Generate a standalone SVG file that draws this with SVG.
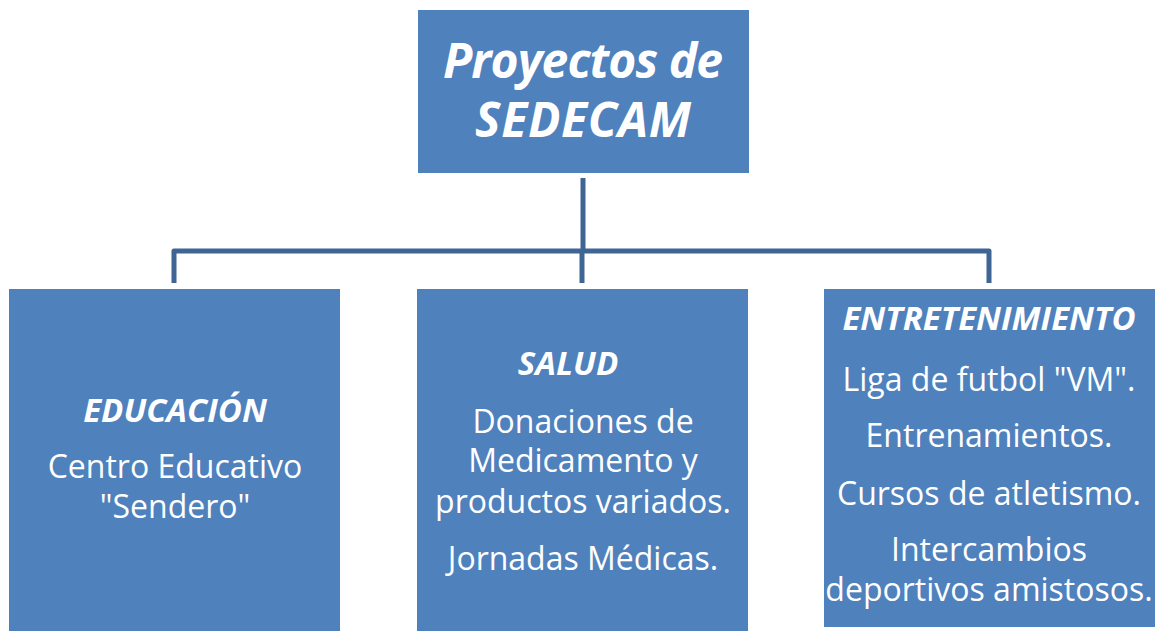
<svg xmlns="http://www.w3.org/2000/svg" width="1155" height="631" viewBox="0 0 1155 631">
<style>
.box{fill:#4f81bd;}
.t{font-family:"Open Sans","Noto Sans",sans-serif;fill:#ffffff;text-anchor:middle;font-size:32px;}
.h{font-weight:bold;font-style:italic;font-size:33px;}
.title{font-size:48px;}
.conn{fill:none;stroke:#3f6595;stroke-width:5;stroke-linejoin:round;stroke-linecap:butt;}
</style>
<rect width="1155" height="631" fill="#ffffff"/>
<g id="connectors">
<path class="conn" d="M583,178 V251"/>
<path class="conn" d="M174,283 V251 H989 V283"/>
<path class="conn" d="M582,251 V283"/>
</g>
<g id="root">
<rect class="box" x="418" y="10" width="331" height="163"/>
<text class="t h title" x="583" y="78" textLength="280">Proyectos de</text>
<text class="t h title" x="583" y="137" textLength="216">SEDECAM</text>
</g>
<g id="educacion">
<rect class="box" x="9" y="289" width="331" height="342"/>
<text class="t h" x="175" y="422">EDUCACIÓN</text>
<text class="t" x="175" y="478">Centro Educativo</text>
<text class="t" x="175" y="518">"Sendero"</text>
</g>
<g id="salud">
<rect class="box" x="417" y="289" width="331" height="342"/>
<text class="t h" x="568" y="375">SALUD</text>
<text class="t" x="583" y="433">Donaciones de</text>
<text class="t" x="583" y="472">Medicamento y</text>
<text class="t" x="583" y="513">productos variados.</text>
<text class="t" x="583" y="570">Jornadas Médicas.</text>
</g>
<g id="entretenimiento">
<rect class="box" x="824" y="289" width="331" height="338"/>
<text class="t h" x="989" y="330">ENTRETENIMIENTO</text>
<text class="t" x="989" y="391">Liga de futbol "VM".</text>
<text class="t" x="989" y="447">Entrenamientos.</text>
<text class="t" x="989" y="505">Cursos de atletismo.</text>
<text class="t" x="989" y="561">Intercambios</text>
<text class="t" x="989" y="601">deportivos amistosos.</text>
</g>
</svg>
